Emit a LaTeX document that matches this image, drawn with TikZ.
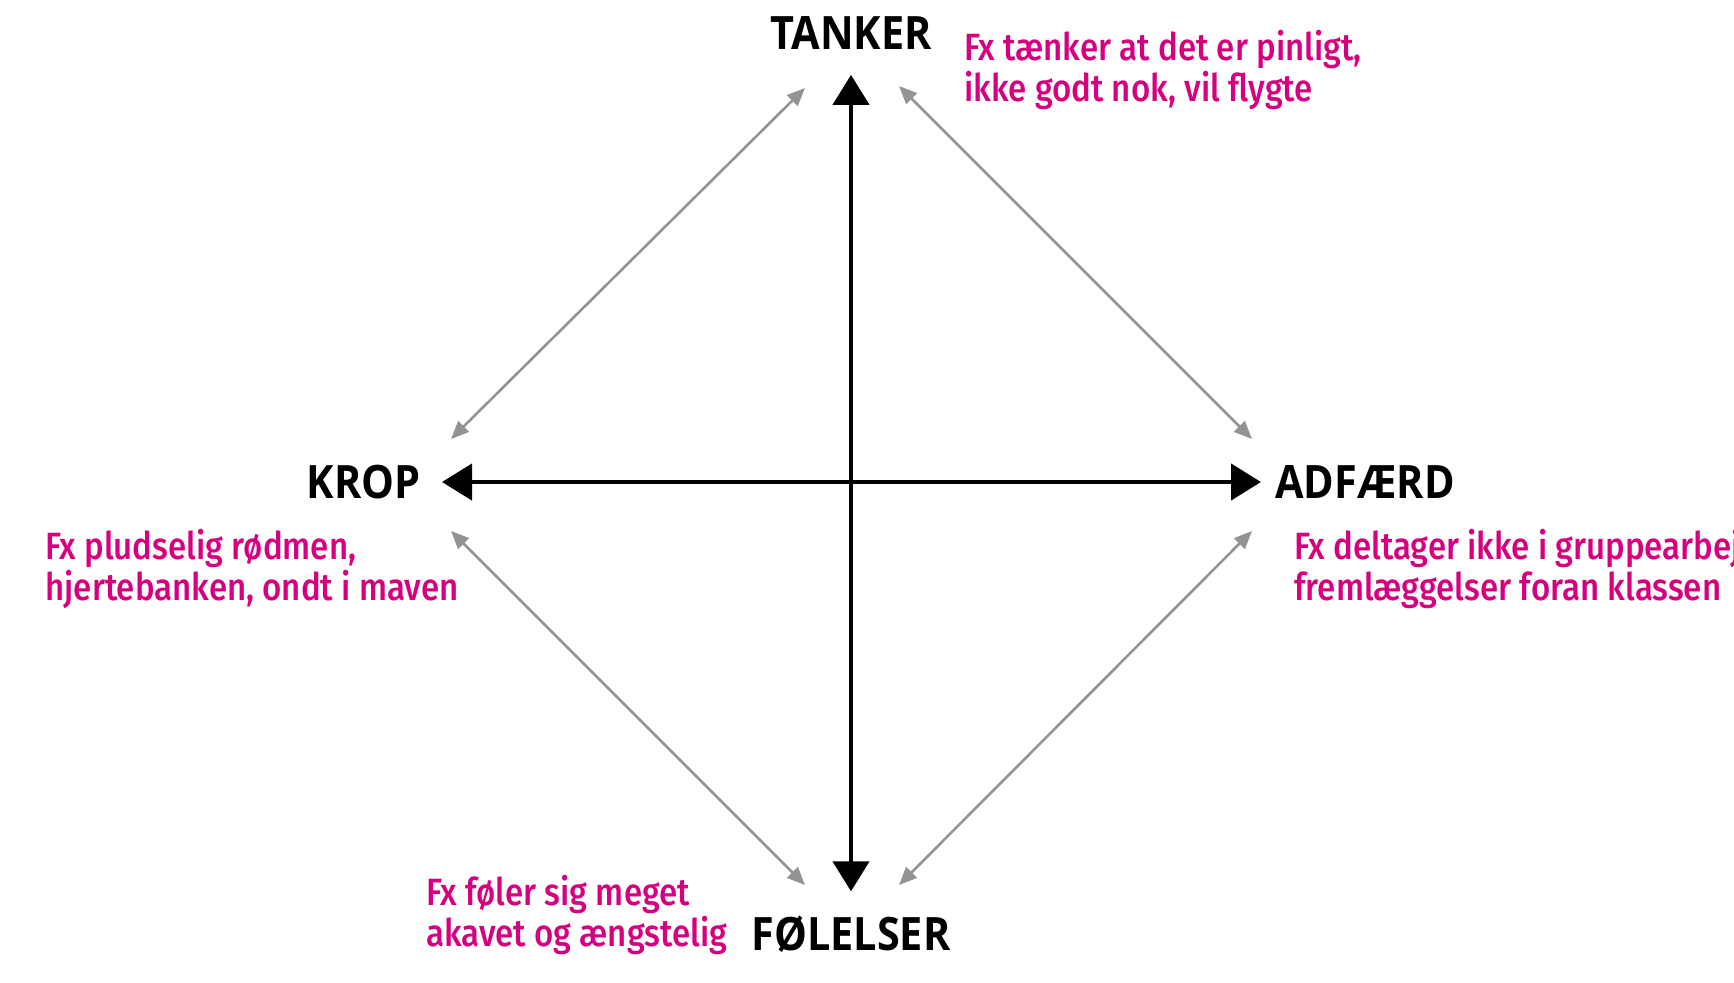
\documentclass[tikz,border=0pt]{standalone}
\usepackage{fontspec}
\usepackage{xcolor}
\usetikzlibrary{arrows.meta, positioning, calc}
\newfontfamily\cornerfont{Open Sans}[FakeStretch=0.9]
\newfontfamily\notefont{Fira Sans}[UprightFont=* Medium, FakeStretch=0.87]
\definecolor{notepink}{RGB}{214, 0, 127}
\tikzset{
    corner/.style={font=\cornerfont\bfseries\fontsize{23}{26}\selectfont, inner sep=0pt},
    note/.style={font=\notefont\fontsize{19}{20.5}\selectfont, text=notepink, align=left, anchor=west, inner sep=0pt},
    axis/.style={draw, {Triangle[length=15pt, width=18pt]}-{Triangle[length=15pt, width=18pt]}, line width=2.2pt, color=black},
    link/.style={draw, {Triangle[length=9pt, width=7.5pt]}-{Triangle[length=9pt, width=7.5pt]}, line width=1.3pt, color=gray!85}
}
\begin{document}
\begin{tikzpicture}[x=0.5pt, y=-0.5pt]
    \useasboundingbox (0,0) rectangle (1734,982);

    % Corner labels
    \node [corner] (tanker) at (851,33) {TANKER};
    \node [corner, anchor=east] (krop) at (421,482) {KROP};
    \node [corner, anchor=west] (adfaerd) at (1275,482) {ADFÆRD};
    \node [corner] (folelser) at (851,934) {FØLELSER};

    % Examples
    \node [note] (tanker-note) at (964,70) {Fx tænker at det er pinligt,\\ikke godt nok, vil flygte};
    \node [note] (krop-note) at (45,569) {Fx pludselig rødmen,\\hjertebanken, ondt i maven};
    \node [note] (adfaerd-note) at (1294,569) {Fx deltager ikke i gruppearbejde\\fremlæggelser foran klassen};
    \node [note] (folelser-note) at (426,915) {Fx føler sig meget\\akavet og ængstelig};

    % Arrow ends
    \coordinate (tl-a) at (805,88);
    \coordinate (tl-b) at (451,439);
    \coordinate (tr-a) at (899,86);
    \coordinate (tr-b) at (1252,439);
    \coordinate (bl-a) at (451,531);
    \coordinate (bl-b) at (805,885);
    \coordinate (br-a) at (1252,531);
    \coordinate (br-b) at (899,885);

    % Paths
    \draw [axis, shorten <=25pt*0.5, shorten >=24pt*0.5] (tanker) -- (folelser);
    \draw [axis, shorten <=21pt*0.5, shorten >=14pt*0.5] (krop) -- (adfaerd);
    \draw [link] (tl-a) -- (tl-b);
    \draw [link] (tr-a) -- (tr-b);
    \draw [link] (bl-a) -- (bl-b);
    \draw [link] (br-a) -- (br-b);

\end{tikzpicture}
\end{document}
